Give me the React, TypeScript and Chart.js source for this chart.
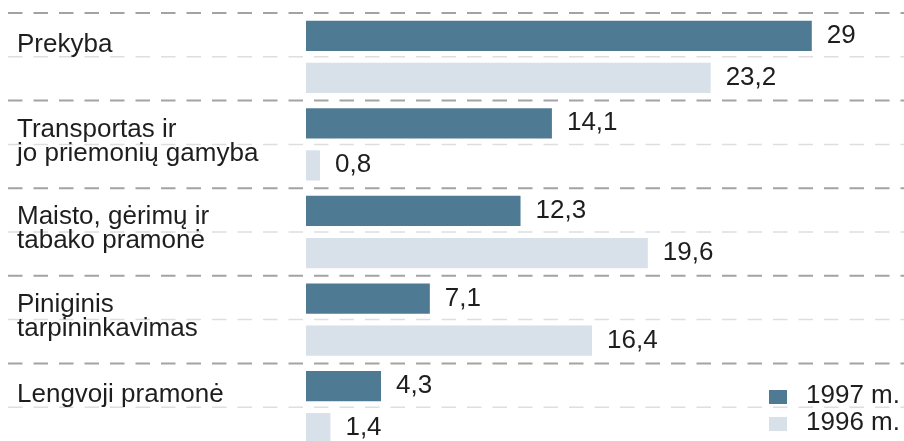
import React, { useEffect, useRef } from "react";
import { Chart, registerables } from "chart.js";

Chart.register(...registerables);

const categories: string[][] = [
  ["Prekyba"],
  ["Transportas ir", "jo priemonių gamyba"],
  ["Maisto, gėrimų ir", "tabako pramonė"],
  ["Piniginis", "tarpininkavimas"],
  ["Lengvoji pramonė"],
];
const values1997 = [29, 14.1, 12.3, 7.1, 4.3];
const values1996 = [23.2, 0.8, 19.6, 16.4, 1.4];
const seriesNames = ["1997 m.", "1996 m."];
const seriesColors = ["#4e7b93", "#d8e0ea"];

const FONT = '26px "Liberation Sans", Arial, sans-serif';
const TEXT = "#1e1e1e";

const fmt = (v: number) => String(v).replace(".", ",");

const decorPlugin = {
  id: "decor",
  beforeDatasetsDraw(chart: any) {
    const ctx = chart.ctx;
    const y = chart.scales.y;
    const n = chart.data.labels.length;
    const band = (chart.chartArea.bottom - chart.chartArea.top) / n;
    ctx.save();
    ctx.setLineDash([14.5, 11]);
    for (let i = 0; i < n; i++) {
      const c = y.getPixelForValue(i);
      const top = c - band / 2;
      ctx.strokeStyle = "#a3a3a3";
      ctx.lineWidth = 2;
      ctx.beginPath();
      ctx.moveTo(8, top);
      ctx.lineTo(chart.width, top);
      ctx.stroke();
      ctx.strokeStyle = "#dedede";
      ctx.lineWidth = 1.5;
      ctx.beginPath();
      ctx.moveTo(8, c);
      ctx.lineTo(chart.width, c);
      ctx.stroke();
    }
    ctx.setLineDash([]);
    // category labels
    ctx.font = FONT;
    ctx.fillStyle = TEXT;
    ctx.textAlign = "left";
    ctx.textBaseline = "alphabetic";
    for (let i = 0; i < n; i++) {
      const c = y.getPixelForValue(i);
      const top = c - band / 2;
      const lines = chart.data.labels[i] as string[];
      if (lines.length === 1) {
        ctx.fillText(lines[0], 17, top + 39);
      } else {
        lines.forEach((l: string, k: number) => ctx.fillText(l, 17, top + 36 + k * 24));
      }
    }
    ctx.restore();
  },
  afterDatasetsDraw(chart: any) {
    const ctx = chart.ctx;
    ctx.save();
    ctx.font = FONT;
    ctx.fillStyle = TEXT;
    ctx.textAlign = "left";
    ctx.textBaseline = "alphabetic";
    chart.data.datasets.forEach((ds: any, di: number) => {
      const meta = chart.getDatasetMeta(di);
      meta.data.forEach((bar: any, i: number) => {
        ctx.fillText(fmt(ds.data[i]), bar.x + 15, bar.y + 7);
      });
    });
    // legend
    chart.data.datasets.forEach((ds: any, di: number) => {
      const sy = 390 + di * 27;
      ctx.fillStyle = ds.backgroundColor;
      ctx.fillRect(769, sy, 18, 14);
      ctx.fillStyle = TEXT;
      ctx.fillText(ds.label, 806, sy + 13);
    });
    ctx.restore();
  },
};

export default function App() {
  const ref = useRef<HTMLCanvasElement>(null);
  useEffect(() => {
    const chart = new Chart(ref.current!, {
      type: "bar",
      data: {
        labels: categories as any,
        datasets: [
          {
            label: seriesNames[0],
            data: values1997,
            backgroundColor: seriesColors[0],
            categoryPercentage: 0.96,
            barPercentage: 0.72,
          },
          {
            label: seriesNames[1],
            data: values1996,
            backgroundColor: seriesColors[1],
            categoryPercentage: 0.96,
            barPercentage: 0.72,
          },
        ],
      },
      options: {
        indexAxis: "y",
        responsive: false,
        animation: false,
        devicePixelRatio: 1,
        layout: { padding: { left: 306, right: 5, top: 13, bottom: 0 } },
        scales: {
          x: { display: false, min: 0, max: 34 },
          y: { display: false },
        },
        plugins: {
          legend: { display: false },
          tooltip: { enabled: false },
        },
      },
      plugins: [decorPlugin],
    });
    return () => chart.destroy();
  }, []);
  return (
    <div
      style={{
        position: "fixed",
        left: 0,
        top: 0,
        width: 904,
        height: 441,
        overflow: "hidden",
        background: "#ffffff",
      }}
    >
      <canvas ref={ref} width={904} height={451} style={{ display: "block", width: 904, height: 451 }} />
    </div>
  );
}
